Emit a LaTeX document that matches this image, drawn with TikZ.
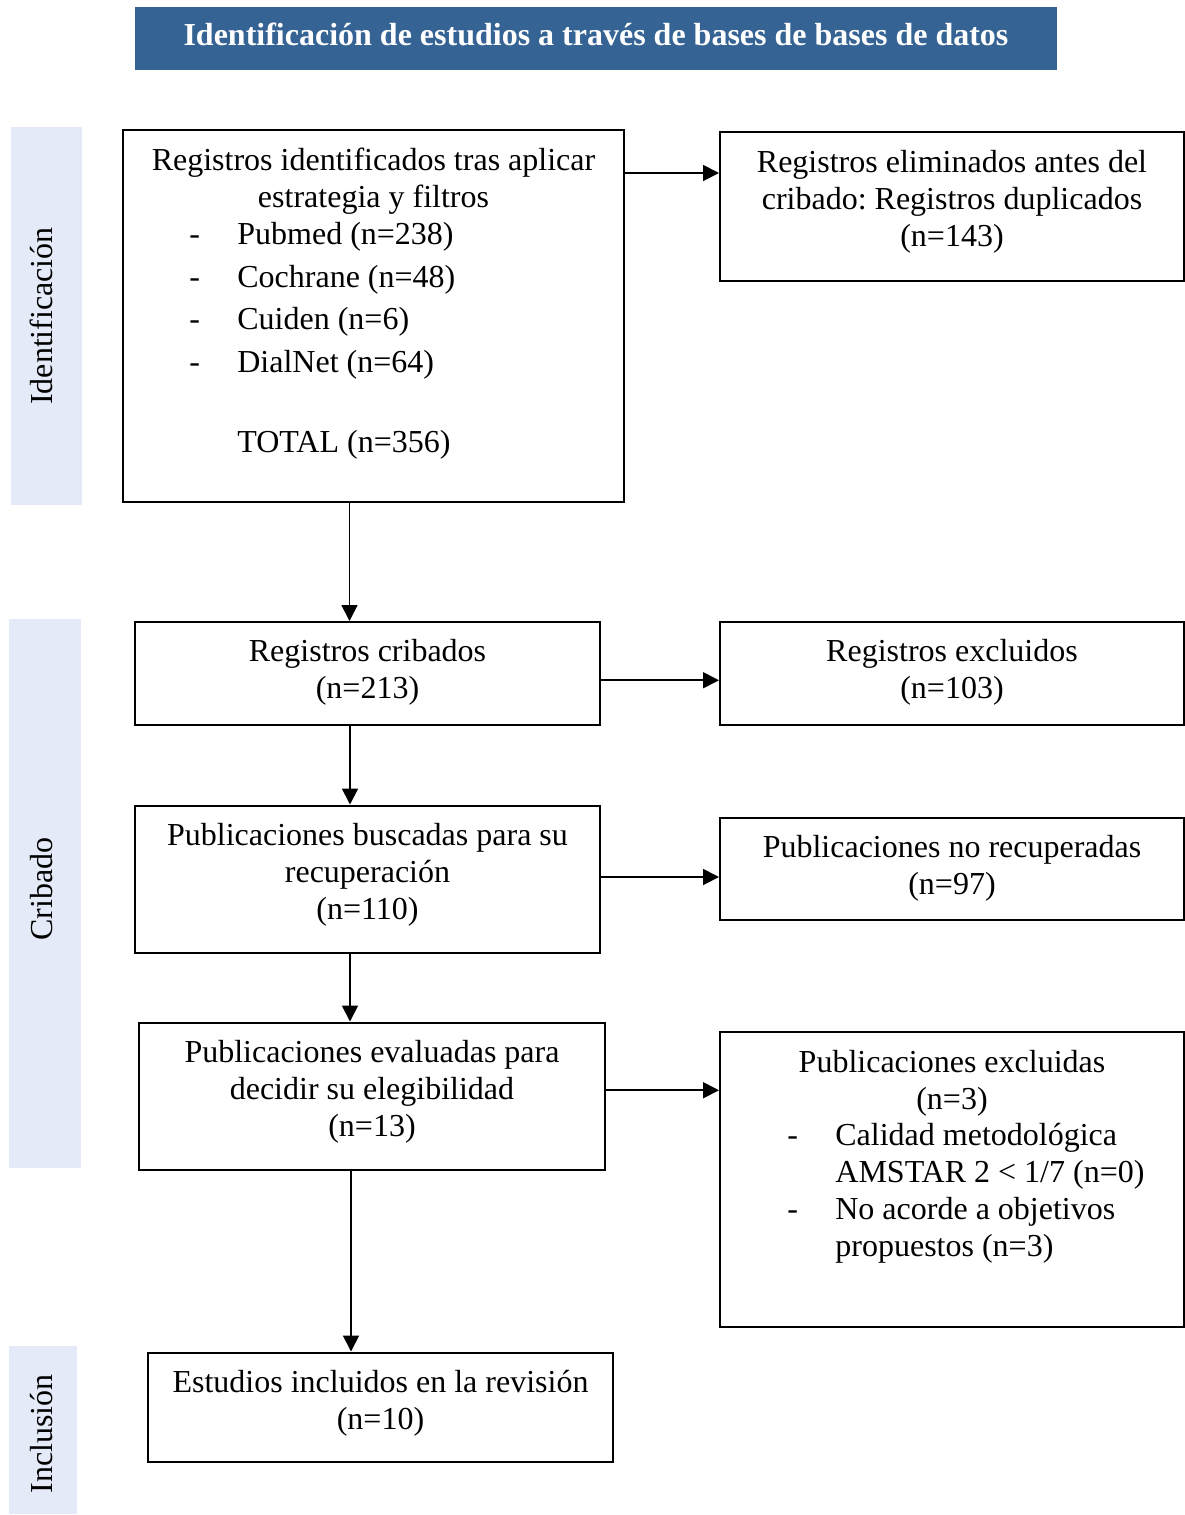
\documentclass[tikz,border=0pt]{standalone}
\usepackage{fontspec}
\setmainfont{Liberation Serif}
\usetikzlibrary{arrows.meta,calc}

\definecolor{bandblue}{RGB}{52,99,148}
\definecolor{sidefill}{RGB}{228,234,248}

\tikzset{
  box/.style={draw, line width=1pt, inner sep=0pt, anchor=north west},
  txt/.style={align=center, inner sep=0pt, anchor=north, font=\fontsize{16}{18.5}\selectfont},
  lst/.style={align=left, inner sep=0pt, anchor=north west, font=\fontsize{16}{18.5}\selectfont},
  sidelab/.style={rotate=90, anchor=base, inner sep=0pt, font=\fontsize{16}{18.5}\selectfont},
  arr/.style={line width=0.9pt, -{Triangle[length=8pt,width=8pt]}}
}
\newcommand{\guion}{\makebox[24pt][l]{-}}
\frenchspacing

\begin{document}
\begin{tikzpicture}[x=0.5pt, y=-0.5pt]
\useasboundingbox (0,0) rectangle (1184,1515);

% 标题
\node[fill=bandblue, text=white, minimum width=461pt, minimum height=31.5pt, inner sep=0pt,
      text height=11pt, text depth=4.5pt, font=\bfseries\fontsize{16}{18.5}\selectfont]
  (titulo) at (596,38.5) {Identificación de estudios a través de bases de bases de datos};

% 左侧阶段条
\fill[sidefill] (11,127) rectangle (82,505);
\fill[sidefill] (9,619) rectangle (81,1168);
\fill[sidefill] (9,1346) rectangle (77,1514);
\node[sidelab] (f-ident) at (52,316) {Identificación};
\node[sidelab] (f-crib)  at (52,889) {Cribado};
\node[sidelab] (f-incl)  at (52,1434) {Inclusión};

% 方框
\node[box, minimum width=250.5pt, minimum height=186pt]  (ident)   at (122,129)    {};
\node[box, minimum width=232pt,   minimum height=74.5pt] (dupl)    at (719,131)    {};
\node[box, minimum width=232.5pt, minimum height=51.25pt](crib)    at (134,621)    {};
\node[box, minimum width=232pt,   minimum height=51.25pt](excl)    at (719,621)    {};
\node[box, minimum width=232.5pt, minimum height=73.5pt] (busc)    at (134,804.5)  {};
\node[box, minimum width=232pt,   minimum height=51pt]   (norec)   at (719,817)    {};
\node[box, minimum width=233pt,   minimum height=73.75pt](eval)    at (138,1021.5) {};
\node[box, minimum width=232pt,   minimum height=147.5pt](exclpub) at (719,1031)   {};
\node[box, minimum width=232.5pt, minimum height=54.5pt] (incl)    at (147,1351.5) {};

% 框内文字
\node[txt] (ident-t) at ($(ident.north)+(0,19)$) {Registros identificados tras aplicar\\estrategia y filtros};
\node[lst, font=\fontsize{16}{21.25}\selectfont] (ident-l) at (189,222)
  {\guion Pubmed (n=238)\\\guion Cochrane (n=48)\\\guion Cuiden (n=6)\\\guion DialNet (n=64)\\[18.75pt]\hspace*{24pt}TOTAL (n=356)};
\node[txt] (dupl-t)  at ($(dupl.north)+(0,19)$)  {Registros eliminados antes del\\cribado: Registros duplicados\\(n=143)};
\node[txt] (crib-t)  at ($(crib.north)+(0,18)$)  {Registros cribados\\(n=213)};
\node[txt] (excl-t)  at ($(excl.north)+(0,18)$)  {Registros excluidos\\(n=103)};
\node[txt] (busc-t)  at ($(busc.north)+(0,18.5)$) {Publicaciones buscadas para su\\recuperación\\(n=110)};
\node[txt] (norec-t) at ($(norec.north)+(0,18)$) {Publicaciones no recuperadas\\(n=97)};
\node[txt] (eval-t)  at ($(eval.north)+(0,18.5)$) {Publicaciones evaluadas para\\decidir su elegibilidad\\(n=13)};
\node[txt] (exclpub-t) at ($(exclpub.north)+(0,19)$) {Publicaciones excluidas\\(n=3)};
\node[lst] (exclpub-l) at (787,1123)
  {\guion Calidad metodológica\\\hspace*{24pt}AMSTAR 2 < 1/7 (n=0)\\\guion No acorde a objetivos\\\hspace*{24pt}propuestos (n=3)};
\node[txt] (incl-t)  at ($(incl.north)+(0,18.5)$) {Estudios incluidos en la revisión\\(n=10)};

% 箭头
\coordinate (p1) at ($(ident.north east)+(0,44)$);
\draw[arr] (p1) -- (p1 -| dupl.west);
\coordinate (p2) at ($(ident.south)+(-24,0)$);
\draw[arr] (p2) -- (p2 |- crib.north);
\coordinate (p3) at ($(crib.east)+(0,7)$);
\draw[arr] (p3) -- (p3 -| excl.west);
\coordinate (p4) at ($(crib.south)+(-17.5,0)$);
\draw[arr] (p4) -- (p4 |- busc.north);
\coordinate (p5) at ($(busc.east)+(0,-2)$);
\draw[arr] (p5) -- (p5 -| norec.west);
\coordinate (p6) at ($(busc.south)+(-17.5,0)$);
\draw[arr] (p6) -- (p6 |- eval.north);
\coordinate (p7) at ($(eval.east)+(0,-6)$);
\draw[arr] (p7) -- (p7 -| exclpub.west);
\coordinate (p8) at ($(eval.south)+(-21,0)$);
\draw[arr] (p8) -- (p8 |- incl.north);

\end{tikzpicture}
\end{document}
